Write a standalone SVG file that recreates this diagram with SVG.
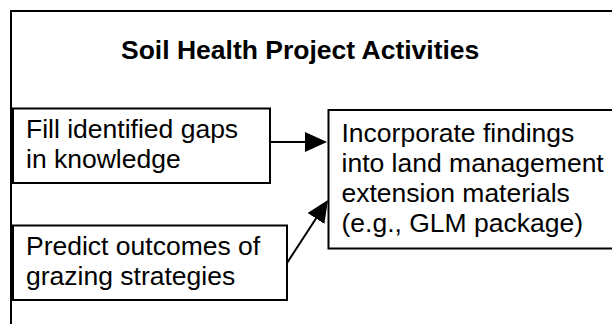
<svg xmlns="http://www.w3.org/2000/svg" width="612" height="324" viewBox="0 0 612 324">
  <style>
    .box { fill: #ffffff; stroke: #000000; stroke-width: 2; }
    .txt { font-family: "Liberation Sans", Arial, sans-serif; font-size: 26.5px; fill: #000000; }
    .title { font-weight: bold; }
    .conn { stroke: #000000; stroke-width: 2; fill: none; }
  </style>
  <defs>
    <marker id="arrow" markerUnits="userSpaceOnUse" markerWidth="22" markerHeight="20" refX="20" refY="10" orient="auto">
      <path d="M0,0 L22,10 L0,20 Z" fill="#000000"/>
    </marker>
  </defs>
  <rect width="612" height="324" fill="#ffffff"/>
  <g id="outer">
    <path class="conn" d="M11,330 V11 H620"/>
    <text class="txt title" x="121" y="58.5">Soil Health Project Activities</text>
  </g>
  <g id="fill-gaps">
    <rect class="box" x="13" y="108.5" width="257" height="74.5"/>
    <text class="txt" x="26" y="138.3">Fill identified gaps</text>
    <text class="txt" x="26" y="168.3">in knowledge</text>
  </g>
  <g id="predict">
    <rect class="box" x="13" y="225.5" width="274" height="74.5"/>
    <text class="txt" x="26" y="255">Predict outcomes of</text>
    <text class="txt" x="26" y="285">grazing strategies</text>
  </g>
  <g id="incorporate">
    <rect class="box" x="328.5" y="110" width="300" height="138.5"/>
    <text class="txt" x="341.5" y="141.5">Incorporate findings</text>
    <text class="txt" x="341.5" y="171.5">into land management</text>
    <text class="txt" x="341.5" y="201.5">extension materials</text>
    <text class="txt" x="341.5" y="231.5">(e.g., GLM package)</text>
  </g>
  <g id="connectors">
    <line class="conn" x1="270" y1="142" x2="325" y2="142" marker-end="url(#arrow)"/>
    <line class="conn" x1="287" y1="263" x2="326.9" y2="201.7" marker-end="url(#arrow)"/>
  </g>
</svg>
